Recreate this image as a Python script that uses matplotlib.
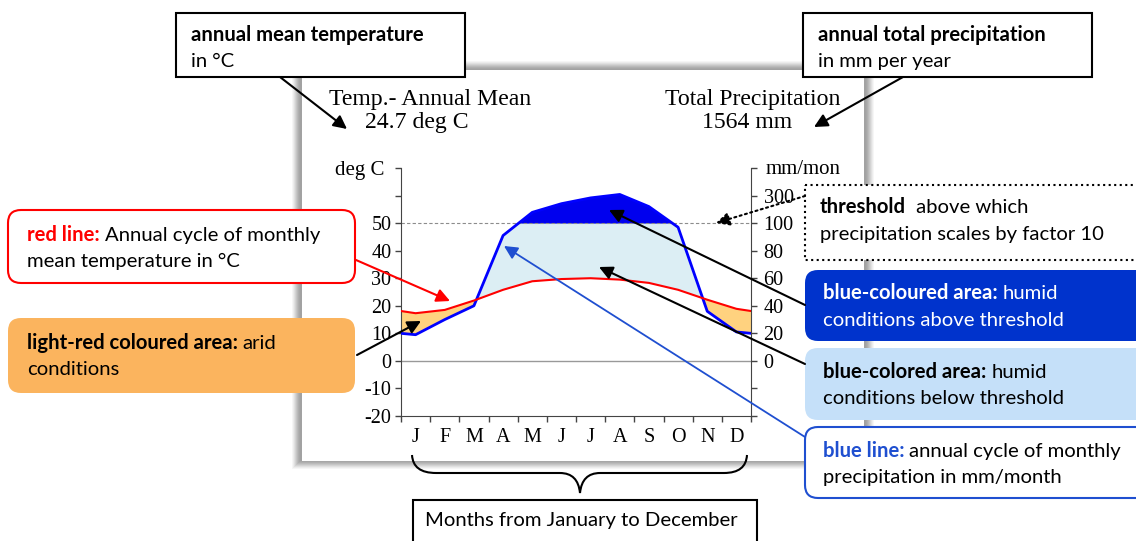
import numpy as np
import matplotlib.pyplot as plt
from matplotlib.patches import Rectangle, FancyBboxPatch, PathPatch
from matplotlib.path import Path

# values
months = ["J", "F", "M", "A", "M", "J", "J", "A", "S", "O", "N", "D"]
temp = [17.3, 18.5, 21.9, 25.8, 28.9, 29.7, 30.0, 29.5, 28.3, 25.8, 22.2, 18.9]   # deg C
prec = [19, 30, 40, 91, 178, 241, 283, 308, 220, 97, 36, 21]                     # mm/month
temp_ticks = [-20, -10, 0, 10, 20, 30, 40, 50]
prec_ticks = [0, 20, 40, 60, 80, 100, 300]
title_left = ["Temp.- Annual Mean", "24.7 deg C"]
title_right = ["Total Precipitation", "1564 mm"]
threshold = 100  # mm/month, above it precipitation is drawn at 1/10 scale

plt.rcParams['font.family'] = 'Liberation Serif'
W, H = 1136, 541
fig = plt.figure(figsize=(W / 100, H / 100), dpi=100)


def prec_to_temp(p):
    # 20 mm = 10 deg C below the threshold, 200 mm = 10 deg C above it
    p = np.asarray(p, dtype=float)
    return np.where(p <= threshold, p / 2, 50 + (p - threshold) / 20)


# background: the framed picture of the diagram (pixel coordinates)
bg = fig.add_axes([0, 0, 1, 1], zorder=0)
bg.set_xlim(0, W)
bg.set_ylim(H, 0)
bg.axis('off')
shades = ['#f6f6f6', '#ececec', '#e0e0e0', '#d3d3d3', '#c6c6c6', '#bababa', '#afafaf', '#a7a7a7', '#a2a2a2']
for i, c in enumerate(shades):
    bg.add_patch(Rectangle((292 + i, 61 + i), 582 - 2 * i, 408 - 2 * i, color=c, lw=0))
bg.add_patch(Rectangle((302, 70), 562, 391, color='white', lw=0))

bg.text(430, 105, title_left[0], fontsize=17.1, ha='center', va='baseline')
bg.text(417, 128, title_left[1], fontsize=17.1, ha='center', va='baseline')
bg.text(753, 105, title_right[0], fontsize=17.1, ha='center', va='baseline')
bg.text(747, 128, title_right[1], fontsize=17.1, ha='center', va='baseline')
bg.text(384, 170, "deg C", fontsize=15, ha='right', va='center')
bg.text(766, 170, "mm/mon", fontsize=15, ha='left', va='center')

# the diagram itself
ax = fig.add_axes([401 / W, (H - 416) / H, 350 / W, 248 / H], zorder=1)
ax.set_facecolor('none')
ax.set_xlim(0, 12)
ax.set_ylim(-20, 70)

# close the annual cycle at both edges (mean of December and January)
x = np.concatenate([[0], np.arange(12) + 0.5, [12]])
t = np.array([(temp[0] + temp[-1]) / 2] + temp + [(temp[0] + temp[-1]) / 2])
p = prec_to_temp([(prec[0] + prec[-1]) / 2] + prec + [(prec[0] + prec[-1]) / 2])

ax.fill_between(x, p, t, where=t >= p, interpolate=True, color='#ffd27f', lw=0, zorder=1)
ax.fill_between(x, t, p, where=p >= t, interpolate=True, color='#dceef4', lw=0, zorder=1)
ax.fill_between(x, 50, p, where=p >= 50, interpolate=True, color='#0000ee', lw=0, zorder=1)
ax.axhline(0, color='#999999', lw=1, zorder=2)
ax.axhline(50, color='#8c8c8c', lw=0.8, ls=(0, (3, 2)), zorder=2)
ax.plot(x, p, color='#0000ff', lw=2, zorder=3)
ax.plot(x, t, color='#ff0000', lw=1.5, zorder=4)

ax.set_yticks(temp_ticks)
ax.set_yticklabels([str(v) for v in temp_ticks])
ax.set_yticks([60, 70], minor=True)
ax.set_xticks(range(13))
ax.set_xticklabels([])
ax.set_xticks(np.arange(12) + 0.5, minor=True)
ax.set_xticklabels(months, minor=True)
ax.tick_params(axis='y', which='both', direction='out', length=4, width=1, color='#444444',
               labelsize=14.5, pad=3)
ax.tick_params(axis='x', which='major', direction='out', length=4, width=1, color='#444444')
ax.tick_params(axis='x', which='minor', length=0, labelsize=14.5, pad=9)
for s in ['top', 'right']:
    ax.spines[s].set_visible(False)
for s in ['left', 'bottom']:
    ax.spines[s].set_color('#444444')

ax2 = ax.twinx()
ax2.set_zorder(1.5)
ax2.set_ylim(-20, 70)
ax2.set_yticks(prec_to_temp(prec_ticks))
ax2.set_yticklabels([str(v) for v in prec_ticks])
ax2.set_yticks([-20, -10, 70], minor=True)
ax2.tick_params(axis='y', which='both', direction='out', length=4, width=1, color='#444444',
                labelsize=14.5, pad=5)
for s in ['top', 'left', 'bottom']:
    ax2.spines[s].set_visible(False)
ax2.spines['right'].set_color('#444444')

# explanation boxes and arrows on top (pixel coordinates)
fax = fig.add_axes([0, 0, 1, 1], zorder=5)
fax.set_xlim(0, W)
fax.set_ylim(H, 0)
fax.axis('off')
renderer = fig.canvas.get_renderer()
FS = 14.6


def rich(x0, y0, parts):
    xx = x0
    for txt, weight, color in parts:
        tt = fax.text(xx, y0, txt, fontsize=FS, fontweight=weight, color=color,
                      family='Lato', ha='left', va='baseline')
        xx += tt.get_window_extent(renderer).width + FS * 0.33


def arrow(tail, head, color='black', lw=1.5, ls='-'):
    fax.annotate('', xy=head, xytext=tail,
                 arrowprops=dict(arrowstyle='-|>', color=color, lw=lw, ls=ls,
                                 mutation_scale=20, shrinkA=0, shrinkB=0))


arrow((280, 77), (347, 129))
arrow((903, 77), (814, 127))
arrow((356, 260), (450, 301), color='#ff0000')
arrow((357, 355), (421, 321))
arrow((805, 196), (716, 223), ls=':')
arrow((805, 305), (609, 210))
arrow((805, 364), (599, 267))
arrow((805, 437), (504, 246), color='#1f4fd0', lw=1.3)

fax.add_patch(Rectangle((176, 13), 289, 64, fc='white', ec='black', lw=1.5))
fax.add_patch(Rectangle((803, 13), 289, 64, fc='white', ec='black', lw=1.5))
rnd = "round,pad=0,rounding_size=13"
fax.add_patch(FancyBboxPatch((8, 210), 347, 73, boxstyle=rnd, fc='white', ec='#ff0000', lw=1.5))
fax.add_patch(FancyBboxPatch((8, 318), 347, 75, boxstyle=rnd, fc='#fbb45e', ec='none'))
fax.add_patch(Rectangle((805, 185), 400, 75, fc='white', ec='black', lw=1.5, ls=':'))
fax.add_patch(FancyBboxPatch((805, 270), 400, 71, boxstyle=rnd, fc='#0033cc', ec='none'))
fax.add_patch(FancyBboxPatch((805, 348), 400, 72, boxstyle=rnd, fc='#c5e0f9', ec='none'))
fax.add_patch(FancyBboxPatch((805, 427), 400, 71, boxstyle=rnd, fc='white', ec='#1f4fd0', lw=1.5))
fax.add_patch(Rectangle((413, 500), 344, 60, fc='white', ec='black', lw=1.5))

rich(191, 41, [("annual mean temperature", 'bold', 'black')])
rich(191, 67, [("in °C", 'normal', 'black')])
rich(818, 41, [("annual total precipitation", 'bold', 'black')])
rich(818, 67, [("in mm per year", 'normal', 'black')])
rich(27, 241, [("red line:", 'bold', '#ff0000'), ("Annual cycle of monthly", 'normal', 'black')])
rich(27, 267, [("mean temperature in °C", 'normal', 'black')])
rich(27, 349, [("light-red coloured area:", 'bold', 'black'), ("arid", 'normal', 'black')])
rich(27, 375, [("conditions", 'normal', 'black')])
rich(820, 213, [("threshold", 'bold', 'black'), (" above which", 'normal', 'black')])
rich(820, 240, [("precipitation scales by factor 10", 'normal', 'black')])
rich(823, 299, [("blue-coloured area:", 'bold', 'white'), ("humid", 'normal', 'white')])
rich(823, 326, [("conditions above threshold", 'normal', 'white')])
rich(823, 378, [("blue-colored area:", 'bold', 'black'), ("humid", 'normal', 'black')])
rich(823, 404, [("conditions below threshold", 'normal', 'black')])
rich(823, 457, [("blue line:", 'bold', '#1f4fd0'), ("annual cycle of monthly", 'normal', 'black')])
rich(823, 483, [("precipitation in mm/month", 'normal', 'black')])
fax.text(581, 526, "Months from January to December", fontsize=FS, family='Lato',
         ha='center', va='baseline')

# curly brace under the month letters
brace = Path([(412, 455), (413, 473), (436, 473), (560, 473), (578, 473), (580, 493),
              (582, 473), (600, 473), (724, 473), (746, 473), (747, 455)],
             [Path.MOVETO, Path.CURVE3, Path.CURVE3, Path.LINETO, Path.CURVE3, Path.CURVE3,
              Path.CURVE3, Path.CURVE3, Path.LINETO, Path.CURVE3, Path.CURVE3])
fax.add_patch(PathPatch(brace, fc='none', ec='black', lw=1.5))

fig.savefig('out.png', dpi=100)
